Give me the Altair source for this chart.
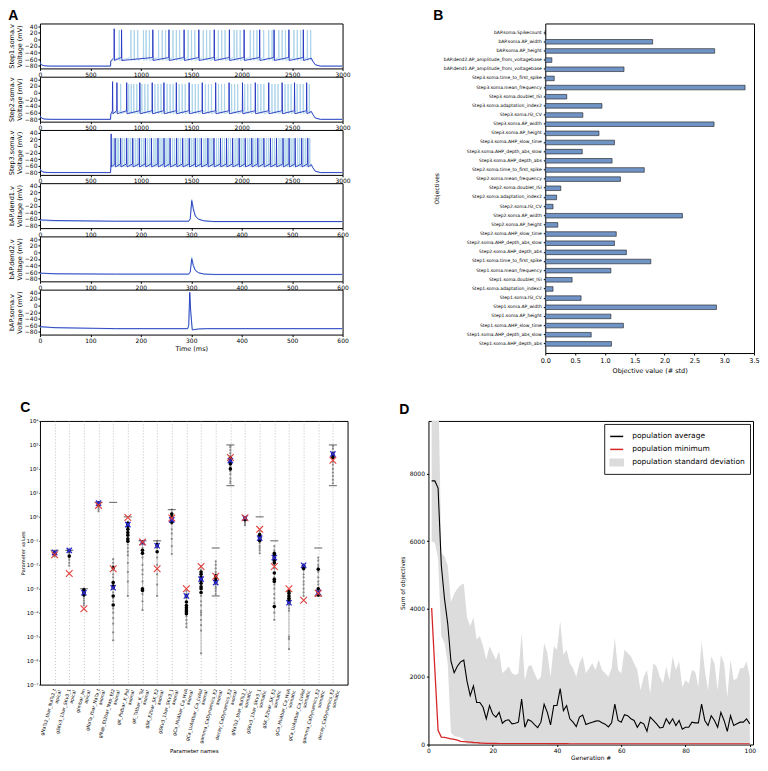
import altair as alt
import pandas as pd

FONT = "DejaVu Sans"
LETTER_FONT = "Liberation Sans"
DARK = "#2236c0"
LIGHT = "#a9d3ea"

# ---------------- Panel A data ----------------
a_step_ticks = [0, 500, 1000, 1500, 2000, 2500, 3000]
a_bap_ticks = [0, 100, 200, 300, 400, 500, 600]
a_v_ticks = [-80, -60, -40, -20, 0, 20, 40]
a_titles = ["Step1.soma.v", "Step2.soma.v", "Step3.soma.v", "bAP.dend1.v", "bAP.dend2.v", "bAP.soma.v"]

step_pre_t = [0, 15, 40, 100, 700, 702]
step_pre_v = [-70, -77, -80, -81, -81, -66]
step_post_t = [2690, 2705, 2730, 2780, 3000]
step_post_v = [-57, -66, -77, -81, -81]
step_rise_v = -55
step_ahp_v = -64

step1_dark = [736, 809, 1119, 1279, 1429, 1575, 1728, 1878, 2024, 2178, 2321, 2468, 2611]
step1_light = [786, 902, 935, 969, 1026, 1052, 1085, 1176, 1212, 1245, 1319, 1352, 1385, 1469, 1502,
               1535, 1619, 1652, 1685, 1768, 1802, 1835, 1925, 1952, 1985, 2085, 2118, 2151, 2218,
               2268, 2301, 2368, 2401, 2434, 2518, 2551, 2584, 2651, 2684]
step2_dark = [720, 763, 860, 990, 1113, 1229, 1352, 1479, 1609, 1742, 1875, 2008, 2135, 2268, 2401, 2524, 2644]
step2_light = [800, 880, 905, 930, 960, 1010, 1040, 1070, 1140, 1170, 1200, 1260, 1290, 1320, 1380,
               1410, 1440, 1510, 1540, 1570, 1640, 1670, 1700, 1770, 1800, 1830, 1900, 1930, 1960,
               2030, 2060, 2090, 2160, 2190, 2220, 2300, 2330, 2360, 2430, 2460, 2490, 2550, 2580,
               2610, 2670]
step3_dark = [706, 745, 800, 860, 920, 985, 1045, 1105, 1170, 1230, 1290, 1355, 1415, 1480, 1540,
              1600, 1665, 1725, 1790, 1850, 1910, 1975, 2035, 2100, 2160, 2220, 2285, 2345, 2410,
              2470, 2530, 2595, 2655]
step3_light = [725, 765, 780, 820, 840, 880, 900, 945, 965, 1005, 1025, 1065, 1085, 1130, 1150, 1190,
               1210, 1250, 1270, 1315, 1335, 1375, 1395, 1440, 1460, 1500, 1520, 1560, 1580, 1625,
               1645, 1685, 1705, 1750, 1770, 1810, 1830, 1870, 1890, 1935, 1955, 1995, 2015, 2060,
               2080, 2120, 2140, 2180, 2200, 2245, 2265, 2305, 2325, 2370, 2390, 2430, 2450, 2490,
               2510, 2555, 2575, 2615, 2635, 2675]
# (first spike peak, other spikes peak) per trace
step_peaks_dark = [(32, 29), (33, 30), (36, 23)]
step_peaks_light = [(28, 28), (26, 26), (23, 23)]

bap_t = [0, 30, 150, 295, 298, 301, 304, 308, 314, 325, 345, 600]
dend1_dark_v = [-63, -65, -67, -67, -60, -5, -30, -52, -61, -66, -68, -68]
dend1_light_v = [-65, -67, -68, -68, -58, -1, -25, -48, -60, -66, -69, -69]
dend2_dark_v = [-63, -65, -66, -66, -60, -20, -40, -55, -62, -66, -67, -67]
dend2_light_v = [-64, -66, -67, -67, -58, -14, -35, -52, -61, -66, -68, -68]
soma_t = [0, 30, 150, 293, 295, 297, 299, 302, 306, 315, 330, 600]
soma_dark_v = [-64, -67, -70, -70, -60, 40, -20, -74, -73, -71, -70, -70]
soma_light_v = [-65, -68, -71, -71, -58, 38, -18, -73, -72, -71, -71, -71]

# ---------------- Panel B data ----------------
b_labels = [
    "bAP.soma.Spikecount", "bAP.soma.AP_width", "bAP.soma.AP_height",
    "bAP.dend2.AP_amplitude_from_voltagebase", "bAP.dend1.AP_amplitude_from_voltagebase",
    "Step3.soma.time_to_first_spike", "Step3.soma.mean_frequency", "Step3.soma.doublet_ISI",
    "Step3.soma.adaptation_index2", "Step3.soma.ISI_CV", "Step3.soma.AP_width", "Step3.soma.AP_height",
    "Step3.soma.AHP_slow_time", "Step3.soma.AHP_depth_abs_slow", "Step3.soma.AHP_depth_abs",
    "Step2.soma.time_to_first_spike", "Step2.soma.mean_frequency", "Step2.soma.doublet_ISI",
    "Step2.soma.adaptation_index2", "Step2.soma.ISI_CV", "Step2.soma.AP_width", "Step2.soma.AP_height",
    "Step2.soma.AHP_slow_time", "Step2.soma.AHP_depth_abs_slow", "Step2.soma.AHP_depth_abs",
    "Step1.soma.time_to_first_spike", "Step1.soma.mean_frequency", "Step1.soma.doublet_ISI",
    "Step1.soma.adaptation_index2", "Step1.soma.ISI_CV", "Step1.soma.AP_width", "Step1.soma.AP_height",
    "Step1.soma.AHP_slow_time", "Step1.soma.AHP_depth_abs_slow", "Step1.soma.AHP_depth_abs"]
b_values = [0.0, 1.80, 2.84, 0.11, 1.32, 0.15, 3.35, 0.36, 0.95, 0.63, 2.83, 0.90, 1.16, 0.62, 1.12,
            1.66, 1.26, 0.26, 0.19, 0.13, 2.30, 0.21, 1.19, 1.16, 1.36, 1.77, 1.10, 0.45, 0.13, 0.60,
            2.87, 1.10, 1.31, 0.77, 1.11]
b_ticks = [0.0, 0.5, 1.0, 1.5, 2.0, 2.5, 3.0, 3.5]

# ---------------- Panel C data ----------------
c_names = ["gNaTs2_tbar_NaTs2_t|apical", "gSKv3_1bar_SKv3_1|apical", "gImbar_Im|apical",
           "gNaTa_tbar_NaTa_t|axonal", "gNap_Et2bar_Nap_Et2|axonal", "gK_Pstbar_K_Pst|axonal",
           "gK_Tstbar_K_Tst|axonal", "gSK_E2bar_SK_E2|axonal", "gSKv3_1bar_SKv3_1|axonal",
           "gCa_HVAbar_Ca_HVA|axonal", "gCa_LVAstbar_Ca_LVAst|axonal", "gamma_CaDynamics_E2|axonal",
           "decay_CaDynamics_E2|axonal", "gNaTs2_tbar_NaTs2_t|somatic", "gSKv3_1bar_SKv3_1|somatic",
           "gSK_E2bar_SK_E2|somatic", "gCa_HVAbar_Ca_HVA|somatic", "gCa_LVAstbar_Ca_LVAst|somatic",
           "gamma_CaDynamics_E2|somatic", "decay_CaDynamics_E2|somatic"]
c_upper = [0.04, 0.04, 0.001, 4.0, 4.0, 1.0, 0.1, 0.1, 2.0, None, None, 0.05, 1000, None, 1.0, 0.1,
           None, None, 0.05, 1000]
c_lower = [None, None, None, None, None, None, None, None, None, None, None, 5e-4, 20, None, None,
           None, None, None, 5e-4, 20]
c_red = [0.026, 0.0043, 1.45e-4, 3.0, 0.0068, 0.93, 0.09, 0.0068, 0.9, 0.001, 0.0085, 0.0033, 300,
         0.92, 0.3, 0.0085, 0.001, 3.3e-4, 6.5e-4, 230]
c_blue = [0.032, 0.04, 6.8e-4, 3.7, 0.0011, 0.47, 0.085, 0.062, 0.75, 5e-4, 0.0025, 0.0018, 220,
          0.9, 0.13, 0.02, 2.6e-4, 0.0095, 7e-4, 420]
c_black = [
    [0.03, 0.028], [0.038, 0.023], [9e-4, 8e-4, 7e-4, 5.5e-4], [3.5, 3.2],
    [0.0075, 0.0018, 0.0013, 5e-4, 2.1e-4], [0.55, 0.4, 0.3, 0.22, 0.17, 0.12, 0.095],
    [0.04, 0.03, 0.001, 8.5e-4], [0.07, 0.035], [1.3, 1.0, 0.6],
    [2.8e-4, 2e-4, 1.6e-4, 1.3e-4, 1.1e-4, 9e-5],
    [0.005, 0.004, 0.003, 0.0022, 0.0017, 0.0012, 0.001, 7e-4], [0.0035, 0.0028, 0.0022],
    [280, 250, 200, 160, 100], [0.8, 0.75], [0.18, 0.16, 0.14, 0.12, 0.1],
    [0.03, 0.025, 0.015, 0.012, 0.0045, 0.0025, 0.002, 1.8e-4],
    [8e-4, 6.5e-4, 5e-4, 4e-4, 3.3e-4], [0.0085, 0.007], [0.0065, 0.001, 5.5e-4], [350, 300]]
c_gray = [
    [0.035, 0.03, 0.027, 0.025, 0.022],
    [0.04, 0.035, 0.03, 0.02, 0.016, 0.012, 0.009],
    [1e-3, 9e-4, 6e-4, 5e-4, 4e-4, 3.2e-4, 2.5e-4, 2e-4],
    [4.0, 3.8, 3.3, 2.8, 2.4, 2.0, 1.7],
    [0.017, 0.012, 0.009, 0.006, 0.004, 0.003, 0.002, 0.001, 7e-4, 4e-4, 3e-4, 1.5e-4, 1e-4, 6e-5,
     3.5e-5, 1.5e-5, 7e-6],
    [0.07, 0.05, 0.035, 0.025, 0.012, 0.005, 0.002, 5e-4],
    [0.1, 0.07, 0.05, 0.02, 0.01, 0.006, 0.004, 0.002, 6e-4, 3e-4, 1.3e-4],
    [0.1, 0.08, 0.05, 0.02, 0.01, 0.004, 0.0015, 5e-4],
    [2.0, 1.5, 0.5, 0.3, 0.2, 0.12, 0.06, 0.028],
    [8e-4, 6e-4, 4e-4, 3e-4, 7e-5, 5e-5, 3.5e-5, 2.5e-5],
    [0.009, 0.006, 0.0015, 5e-4, 3e-4, 2e-4, 1.2e-4, 1e-4, 8e-5, 5e-5, 3e-5, 1.8e-5, 2e-6],
    [0.014, 0.01, 0.007, 0.005, 0.004, 0.0015, 0.0012, 0.001, 8e-4, 6e-4],
    [900, 800, 600, 450, 350, 120, 80, 60, 40, 30, 25],
    [1.0, 0.85, 0.7, 0.6, 0.5, 0.45],
    [0.25, 0.2, 0.08, 0.06, 0.05, 0.04, 0.03],
    [0.06, 0.04, 0.01, 0.007, 0.003, 0.0015, 0.001, 6e-4, 4e-4, 2.5e-4, 1e-4, 5e-5],
    [9e-4, 7e-4, 2e-4, 1.5e-4, 1.2e-4, 1e-5, 8e-6, 3e-6],
    [0.01, 0.008, 0.006, 0.004, 0.003, 0.002, 0.0015, 0.001, 7e-4, 5e-4],
    [0.02, 0.015, 0.01, 0.008, 0.005, 0.003, 0.002, 0.0015, 8e-4],
    [900, 700, 500, 200, 150, 100, 70, 50, 35, 25]]
c_ytick_values = [1e-7, 1e-6, 1e-5, 1e-4, 1e-3, 1e-2, 1e-1, 1e0, 1e1, 1e2, 1e3, 1e4]
c_ytick_labels = ["10⁻⁷", "10⁻⁶", "10⁻⁵", "10⁻⁴", "10⁻³", "10⁻²", "10⁻¹", "10⁰", "10¹", "10²", "10³", "10⁴"]

# ---------------- Panel D data ----------------
d_gen = list(range(1, 101))
d_avg = [7780, 7780, 7570, 5300, 4300, 3570, 2460, 2120, 2310, 2440,
         2490, 1870, 1440, 1730, 1240, 1240, 1100, 760, 1150, 900,
         810, 950, 630, 710, 730, 610, 630, 660, 1340, 510,
         740, 690, 590, 500, 660, 1190, 950, 580, 1150, 1150,
         1650, 1000, 1150, 760, 660, 530, 810, 870, 590, 630,
         660, 690, 700, 640, 600, 520, 640, 1190, 710, 660,
         880, 850, 760, 710, 510, 660, 610, 390, 810, 710,
         610, 490, 510, 760, 610, 760, 560, 710, 450, 510,
         510, 660, 640, 640, 1190, 710, 560, 850, 710, 510,
         950, 710, 390, 850, 560, 610, 660, 660, 760, 610]
d_min = [4030, 2200, 420, 220, 210, 190, 170, 150, 130, 90,
         85, 80, 70, 60, 55, 45, 40, 35, 32, 30,
         30, 28, 28, 27, 27, 26, 26, 25, 25, 25,
         25, 25, 24, 24, 24, 24, 24, 23, 23, 23,
         23, 23, 23, 22, 22, 22, 22, 22, 22, 22,
         22, 22, 21, 21, 21, 21, 21, 21, 21, 21,
         21, 21, 21, 21, 21, 20, 20, 20, 20, 20,
         20, 20, 20, 20, 20, 20, 20, 20, 20, 20,
         20, 20, 20, 20, 20, 20, 20, 20, 20, 20,
         20, 20, 20, 20, 20, 20, 20, 20, 20, 20]
d_std_hi = [14000, 13000, 11000, 5650, 5550, 5300, 4200, 4450, 4600, 4700,
            4750, 3750, 3500, 3750, 3100, 3200, 2900, 2500, 2900, 2700,
            2500, 2750, 2100, 2200, 2300, 2100, 2050, 2100, 3300, 1900,
            2300, 2350, 2100, 1900, 2000, 3000, 2700, 2000, 2900, 2800,
            3650, 2650, 2800, 2400, 2250, 2000, 2400, 2600, 2100, 2250,
            2400, 2200, 2500, 2200, 2100, 2000, 2250, 3150, 2200, 2100,
            2800, 2700, 2600, 2400, 2200, 1600, 2000, 2200, 1500, 2400,
            2300, 2000, 1800, 2300, 1900, 2600, 2200, 2450, 1700, 1900,
            1800, 2200, 2150, 1700, 3050, 2200, 1600, 2600, 2400, 1600,
            2650, 2400, 1400, 2500, 1900, 1950, 2250, 2250, 2450, 2000]
d_std_lo = [6000, 5950, 5500, 3200, 3000, 2400, 350, 250, 230, 210,
            150, 0, 0, 0, 0, 0, 0, 0, 0, 0,
            0, 0, 0, 0, 0, 0, 0, 0, 0, 0,
            0, 0, 0, 0, 0, 0, 0, 0, 0, 0,
            0, 0, 0, 0, 0, 0, 0, 0, 0, 0,
            0, 0, 0, 0, 0, 0, 0, 0, 0, 0,
            0, 0, 0, 0, 0, 0, 0, 0, 0, 0,
            0, 0, 0, 0, 0, 0, 0, 0, 0, 0,
            0, 0, 0, 0, 0, 0, 0, 0, 0, 0,
            0, 0, 0, 0, 0, 0, 0, 0, 0, 0]
d_legend = ["population average", "population minimum", "population standard deviation"]
d_legend_colors = ["black", "#d62728", "#dcdcdc"]
d_xticks = [0, 20, 40, 60, 80, 100]
d_yticks = [0, 2000, 4000, 6000, 8000]

# ================= build panel A =================
def step_trace(spikes, first_peak, peak):
    t = list(step_pre_t)
    v = list(step_pre_v)
    for i, s in enumerate(spikes):
        t += [s - 2, s, s + 3]
        v += [step_rise_v, first_peak if i == 0 else peak, step_ahp_v]
    t += step_post_t
    v += step_post_v
    return pd.DataFrame({"t": t, "v": v})

a_data = []
for (dk, lt, pd_, pl) in zip([step1_dark, step2_dark, step3_dark], [step1_light, step2_light, step3_light],
                             step_peaks_dark, step_peaks_light):
    a_data.append((step_trace(lt, *pl), step_trace(dk, *pd_), 3000, a_step_ticks))
a_data.append((pd.DataFrame({"t": bap_t, "v": dend1_light_v}), pd.DataFrame({"t": bap_t, "v": dend1_dark_v}), 600, a_bap_ticks))
a_data.append((pd.DataFrame({"t": bap_t, "v": dend2_light_v}), pd.DataFrame({"t": bap_t, "v": dend2_dark_v}), 600, a_bap_ticks))
a_data.append((pd.DataFrame({"t": soma_t, "v": soma_light_v}), pd.DataFrame({"t": soma_t, "v": soma_dark_v}), 600, a_bap_ticks))

a_charts = []
for i, (light_df, dark_df, xmax, xticks) in enumerate(a_data):
    last = i == len(a_data) - 1
    x = alt.X("t:Q", scale=alt.Scale(domain=[0, xmax], nice=False),
              axis=alt.Axis(values=xticks, format="d", title="Time (ms)" if last else None, labelFontSize=6,
                            titleFontSize=6.5, labelPadding=1, tickSize=2, labelFlush=False,
                            titlePadding=2))
    y = alt.Y("v:Q", scale=alt.Scale(domain=[-88, 48], nice=False),
              axis=alt.Axis(values=a_v_ticks, title=[a_titles[i], "Voltage (mV)"], labelFontSize=6,
                            titleFontSize=6.5, titleLineHeight=7.5, labelPadding=1, tickSize=2,
                            titlePadding=2, labelFlush=False))
    lay = alt.layer(
        alt.Chart(light_df).mark_line(color=LIGHT, strokeWidth=0.9, clip=True).encode(x=x, y=y),
        alt.Chart(dark_df).mark_line(color=DARK, strokeWidth=0.9, clip=True).encode(x=x, y=y),
    ).properties(width=303, height=45)
    a_charts.append(lay)

A = alt.vconcat(*a_charts, spacing=8.3, bounds="flush").properties(
    title=alt.TitleParams("A", anchor="start", offset=0))

# ================= build panel B =================
b_df = pd.DataFrame({"objective": b_labels, "value": b_values})
B = alt.Chart(b_df).mark_bar(color="#7094c6", stroke="#1a1a1a", strokeWidth=0.6).encode(
    x=alt.X("value:Q", scale=alt.Scale(domain=[0, 3.5], nice=False),
            axis=alt.Axis(values=b_ticks, format=".1f", title="Objective value (# std)", labelFontSize=6.5,
                          titleFontSize=6.5, labelFlush=False, tickSize=2, labelPadding=2)),
    y=alt.Y("objective:N", sort=b_labels, scale=alt.Scale(paddingInner=0.5, paddingOuter=0.75),
            axis=alt.Axis(title="Objectives", labelFontSize=4.5, titleFontSize=6, labelLimit=400,
                          tickSize=2, labelPadding=2, titlePadding=4)),
).properties(width=209, height=330, title=alt.TitleParams("B", anchor="start", offset=0))

# ================= build panel C =================
rows = []
for i, n in enumerate(c_names):
    for v in c_gray[i]:
        rows.append((n, v, "gray"))
    for v in c_black[i]:
        rows.append((n, v, "black"))
    rows.append((n, c_blue[i], "blue"))
    rows.append((n, c_red[i], "red"))
    if c_upper[i] is not None:
        rows.append((n, c_upper[i], "bound"))
    if c_lower[i] is not None:
        rows.append((n, c_lower[i], "bound"))
c_df = pd.DataFrame(rows, columns=["param", "value", "kind"])

label_arr = "[" + ",".join("'%s'" % s for s in c_ytick_labels) + "]"
cx = alt.X("param:N", sort=c_names, scale=alt.Scale(type="point", padding=1.24),
           axis=alt.Axis(labelExpr="split(datum.label, '|')", labelAngle=285, labelAlign="right",
                         labelBaseline="middle", labelFontSize=4.6, labelLineHeight=5.5, grid=True,
                         gridDash=[1, 2], gridColor="#b0b0b0", gridWidth=0.8, title="Parameter names",
                         titleFontSize=5.5, tickSize=0, labelPadding=4, labelLimit=200, titlePadding=3))
cscale = alt.Scale(type="log", domain=[1e-7, 1e4], nice=False)
cy = alt.Y("value:Q", scale=cscale,
           axis=alt.Axis(values=c_ytick_values, labelExpr=label_arr + "[round(log(datum.value)/LN10)+7]",
                         title="Parameter values", titleFontSize=5, labelFontSize=5.3, tickSize=1,
                         labelPadding=1, titlePadding=1))
XPATH = "M-1,-1L1,1M-1,1L1,-1"
cbase = alt.Chart(c_df)
C = alt.layer(
    cbase.transform_filter("datum.kind == 'gray'").mark_rule(color="#a8a8a8", strokeWidth=0.8).encode(
        x=cx, y=alt.Y("min(value):Q", scale=cscale), y2="max(value):Q"),
    cbase.transform_filter("datum.kind == 'gray'").mark_circle(color="#8a8a8a", size=5, opacity=1).encode(x=cx, y=cy),
    cbase.transform_filter("datum.kind == 'bound'").mark_point(shape="stroke", color="#444444", size=64, strokeWidth=1.2).encode(x=cx, y=cy),
    cbase.transform_filter("datum.kind == 'black'").mark_circle(color="black", size=13, opacity=1).encode(x=cx, y=cy),
    cbase.transform_filter("datum.kind == 'blue'").mark_circle(color="#10104a", size=14, opacity=1).encode(x=cx, y=cy),
    cbase.transform_filter("datum.kind == 'blue'").mark_point(shape=XPATH, color="#2a2ad0", size=28, strokeWidth=1.3, filled=False, opacity=1).encode(x=cx, y=cy),
    cbase.transform_filter("datum.kind == 'red'").mark_point(shape=XPATH, color="#e2403c", size=45, strokeWidth=1.1, filled=False, opacity=1).encode(x=cx, y=cy),
).properties(width=308, height=264, title=alt.TitleParams("C", anchor="start", offset=4))

# ================= build panel D =================
d_df = pd.DataFrame({"gen": d_gen, "avg": d_avg, "mn": d_min, "hi": d_std_hi, "lo": d_std_lo})
dx = alt.X("gen:Q", scale=alt.Scale(domain=[0, 101], nice=False),
           axis=alt.Axis(values=d_xticks, format="d", title="Generation #", labelFontSize=6, titleFontSize=6,
                         labelFlush=False, tickSize=2, labelPadding=1, titlePadding=1))
dscale = alt.Scale(domain=[0, 9550], nice=False)
daxis = alt.Axis(values=d_yticks, format="d", title="Sum of objectives", labelFontSize=6, titleFontSize=6,
                 labelFlush=False, tickSize=2, labelPadding=2, titlePadding=4)
leg = alt.Legend(title=None, orient="top-right", offset=3, strokeColor="#222222", fillColor="white",
                 padding=5, labelFontSize=7.5, labelFont=FONT, symbolSize=170, symbolStrokeWidth=1.5,
                 rowPadding=2, labelOffset=8, cornerRadius=0, labelLimit=300)
shape_box = "M-1,-0.5H1V0.5H-1Z"
legend_df = pd.DataFrame({"series": d_legend})
D = alt.layer(
    alt.Chart(d_df).mark_area(color="#dcdcdc", clip=True, opacity=1).encode(
        x=dx, y=alt.Y("hi:Q", scale=dscale, axis=daxis), y2="lo:Q"),
    alt.Chart(d_df).mark_line(color="black", strokeWidth=1.1, clip=True).encode(x=dx, y=alt.Y("avg:Q", scale=dscale)),
    alt.Chart(d_df).mark_line(color="#d62728", strokeWidth=1.3, clip=True).encode(x=dx, y=alt.Y("mn:Q", scale=dscale)),
    alt.Chart(legend_df).transform_filter("false").mark_point(filled=True, opacity=1).encode(
        fill=alt.Fill("series:N", scale=alt.Scale(domain=d_legend, range=d_legend_colors), legend=leg),
        stroke=alt.Stroke("series:N", scale=alt.Scale(domain=d_legend, range=d_legend_colors), legend=leg),
        shape=alt.Shape("series:N", scale=alt.Scale(domain=d_legend, range=["stroke", "stroke", shape_box]), legend=leg),
    ),
).properties(width=325, height=324, title=alt.TitleParams("D", anchor="start", offset=4))

indep = dict(fill="independent", stroke="independent", shape="independent")
row1 = alt.hconcat(A, B, spacing=81)
row2 = alt.hconcat(C, D, spacing=50).resolve_legend(**indep)
chart = alt.vconcat(row1, row2, spacing=25).resolve_legend(**indep).properties(
    padding={"left": 0, "top": 0, "right": 0, "bottom": 0}
).configure_view(stroke="black", strokeWidth=1).configure_axis(
    domain=False, tickColor="black", labelColor="black", titleColor="black", labelFont=FONT,
    titleFont=FONT, titleFontWeight="normal", grid=False
).configure_title(font=LETTER_FONT, fontSize=14, fontWeight="bold", anchor="start", color="black")

chart.save("out.html", embed_options={"renderer": "svg", "actions": False})
